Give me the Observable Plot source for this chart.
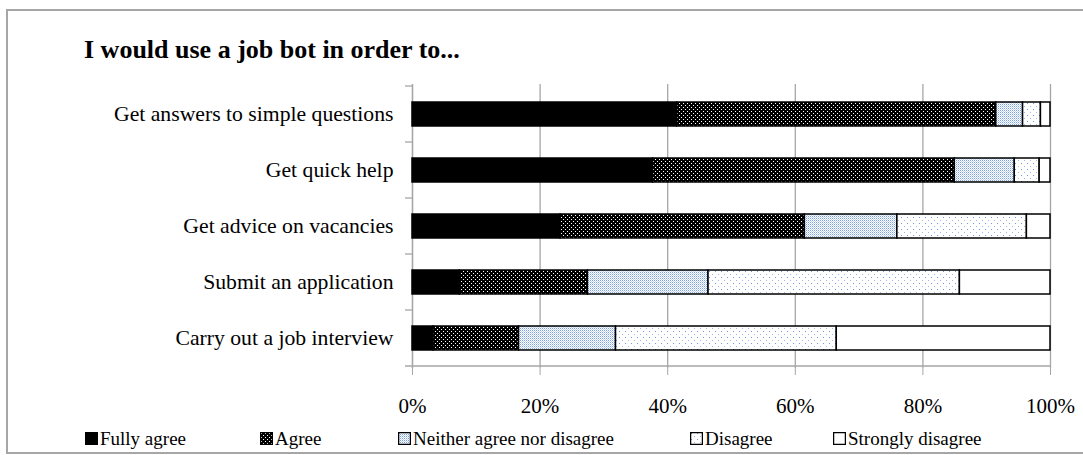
<!DOCTYPE html>
<html><head><meta charset="utf-8">
<script src="https://cdn.jsdelivr.net/npm/d3@7"></script>
<script src="https://cdn.jsdelivr.net/npm/@observablehq/plot@0.6"></script>
<style>
html,body{margin:0;padding:0;background:#fff;overflow:hidden;}
#wrap{position:relative;width:1083px;height:455px;font-family:"Liberation Serif","Times New Roman",serif;color:#000;overflow:hidden;}
#border{position:absolute;left:6px;top:9px;width:1100px;height:445px;border:2px solid #a6a6a6;box-sizing:border-box;}
#title{position:absolute;left:84px;top:37px;font-size:26px;font-weight:bold;line-height:1;white-space:nowrap;}
#chart{position:absolute;left:0;top:0;}
.leg{position:absolute;top:429px;font-size:19px;line-height:1;white-space:nowrap;display:flex;align-items:baseline;}
.leg svg{margin-right:2px;}
#defs{position:absolute;width:0;height:0;}
</style></head>
<body>
<svg id="defs" width="0" height="0">
  <defs>
    <pattern id="pAgree" width="4" height="4" patternUnits="userSpaceOnUse">
      <rect width="4" height="4" fill="#000"/>
      <rect x="1" y="1" width="1" height="1" fill="#fff"/>
      <rect x="3" y="3" width="1" height="1" fill="#fff"/>
    </pattern>
    <pattern id="pNeither" width="2" height="2" patternUnits="userSpaceOnUse">
      <rect width="2" height="2" fill="#fff"/>
      <rect x="0" y="0" width="1" height="1" fill="#7aa2e2"/>
      <rect x="1" y="1" width="1" height="1" fill="#c4d5f2"/>
    </pattern>
    <pattern id="pDisagree" width="6" height="6" patternUnits="userSpaceOnUse">
      <rect width="6" height="6" fill="#fff"/>
      <rect x="1" y="1" width="1" height="1" fill="#6f98dc"/>
      <rect x="4" y="4" width="1" height="1" fill="#9dbbea"/>
    </pattern>
  </defs>
</svg>
<div id="wrap">
  <div id="border"></div>
  <div id="chart"></div>
  <div id="title">I would use a job bot in order to...</div>
  <div id="legend"></div>
</div>
<script>
const items = ["Get answers to simple questions","Get quick help","Get advice on vacancies","Submit an application","Carry out a job interview"];
const series = ["Fully agree","Agree","Neither agree nor disagree","Disagree","Strongly disagree"];
const fullyAgree = [41.5,37.7,23.2,7.4,3.3];
const agree = [50.0,47.3,38.3,20.1,13.4];
const neither = [4.2,9.4,14.5,18.9,15.2];
const disagree = [2.8,3.9,20.3,39.4,34.6];
const stronglyDisagree = [1.5,1.7,3.7,14.2,33.5];
const xTicks = [0,20,40,60,80,100];
const fills = ["#000","url(#pAgree)","url(#pNeither)","url(#pDisagree)","#fff"];
const legendX = [85,260,398,690,833];

const seriesValues = [fullyAgree, agree, neither, disagree, stronglyDisagree];
const rows = [];
items.forEach((item,i) => series.forEach((s,j) => rows.push({item, series:s, value:seriesValues[j][i]})));

const gray = "#a6a6a6";
const plot = Plot.plot({
  width:1083, height:420,
  marginLeft:412, marginRight:33, marginTop:84, marginBottom:52,
  style:{fontFamily:'"Liberation Serif","Times New Roman",serif', fontSize:"21px", color:"#000", background:"transparent", overflow:"visible"},
  x:{domain:[0,100]},
  y:{domain:items, paddingInner:0.58, paddingOuter:0.29},
  color:{domain:series, range:fills},
  marks:[
    Plot.gridX(xTicks,{stroke:gray, strokeOpacity:1, strokeWidth:1.3}),
    Plot.ruleX([0],{stroke:gray, strokeWidth:1.3}),
    Plot.barX(rows, Plot.stackX({y:"item", x:"value", fill:"series", order:series, stroke:"#000", strokeWidth:1.5})),
    Plot.axisX(xTicks,{tickFormat:d=>d+"%", tickSize:7, tickPadding:23, stroke:gray, strokeOpacity:1, fill:"#000", fontSize:21, label:null}),
    Plot.axisY({tickSize:0, tickPadding:19, fontSize:21.7, fill:"#000", label:null})
  ]
});
document.getElementById("chart").appendChild(plot);

// bottom axis line and category boundary ticks, computed from the plot's scales
const xs = plot.scale("x"), ys = plot.scale("y");
const gap = (ys.step - ys.bandwidth)/2;
const bounds = items.map(d => ys.apply(d) - gap).concat([ys.apply(items[items.length-1]) + ys.bandwidth + gap]);
const g = d3.select(plot).append("g").attr("stroke", gray).attr("stroke-width", 1.3);
const x0 = xs.apply(0), x1 = xs.apply(100);
g.append("line").attr("x1", x0 - 7).attr("x2", x1).attr("y1", bounds[bounds.length-1]).attr("y2", bounds[bounds.length-1]);
g.selectAll("line.yt").data(bounds.slice(0,-1)).join("line").attr("class","yt")
  .attr("x1", x0 - 7).attr("x2", x0).attr("y1", d=>d).attr("y2", d=>d);

// legend
const leg = d3.select("#legend");
series.forEach((s,i) => {
  const item = leg.append("div").attr("class","leg").style("left", legendX[i]+"px");
  const sv = item.append("svg").attr("width",13).attr("height",13);
  sv.append("rect").attr("x",0.5).attr("y",0.5).attr("width",12).attr("height",12)
    .attr("fill", fills[i]).attr("stroke","#000").attr("stroke-width", i===0?1:1.5);
  item.append("span").text(s);
});
</script>
</body></html>
